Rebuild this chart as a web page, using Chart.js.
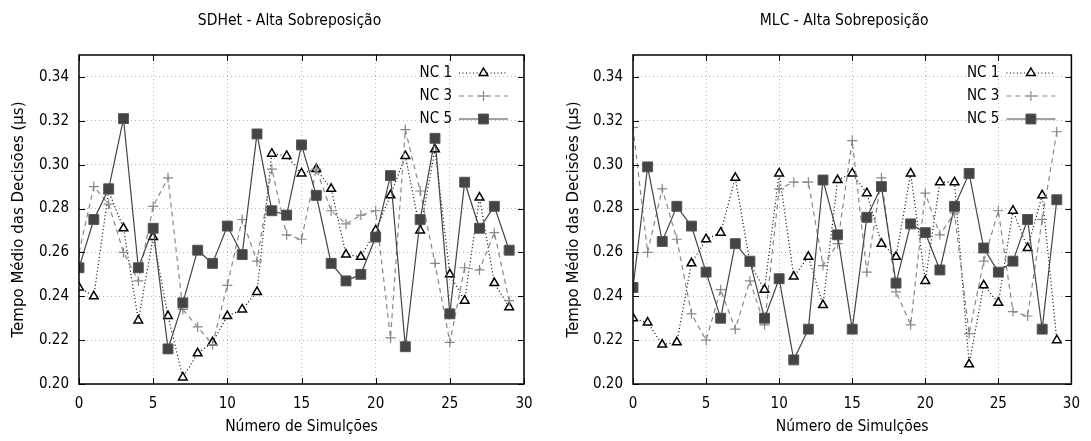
<!DOCTYPE html>
<html>
<head>
<meta charset="utf-8">
<script src="https://cdn.jsdelivr.net/npm/chart.js@4.4.0/dist/chart.umd.min.js"></script>
<style>
  body { margin: 0; background: #fff; }
  #wrap { position: relative; width: 1091px; height: 441px; }
  canvas { position: absolute; top: 0; }
</style>
</head>
<body>
<div id="wrap">
  <canvas id="sdhet" width="545" height="441" style="left:0;width:545px;height:441px"></canvas>
  <canvas id="mlc" width="546" height="441" style="left:545px;width:546px;height:441px"></canvas>
</div>
<script>
// eixos
const simulacoes = [0, 1, 2, 3, 4, 5, 6, 7, 8, 9, 10, 11, 12, 13, 14, 15, 16, 17, 18, 19, 20, 21, 22, 23, 24, 25, 26, 27, 28, 29];
const xTicks = [0, 5, 10, 15, 20, 25, 30];
const yTicks = [0.20, 0.22, 0.24, 0.26, 0.28, 0.30, 0.32, 0.34];
const seriesNames = ['NC 1', 'NC 3', 'NC 5'];

// SDHet - Alta Sobreposição
const sdhetNC1 = [0.244, 0.240, 0.288, 0.271, 0.229, 0.267, 0.231, 0.203, 0.214, 0.219, 0.231, 0.234, 0.242, 0.305, 0.304, 0.296, 0.298, 0.289, 0.259, 0.258, 0.270, 0.286, 0.304, 0.270, 0.307, 0.250, 0.238, 0.285, 0.246, 0.235];
const sdhetNC3 = [0.260, 0.290, 0.282, 0.260, 0.247, 0.281, 0.294, 0.234, 0.226, 0.218, 0.245, 0.275, 0.256, 0.298, 0.268, 0.266, 0.298, 0.279, 0.273, 0.277, 0.279, 0.221, 0.316, 0.288, 0.255, 0.219, 0.253, 0.252, 0.269, 0.238];
const sdhetNC5 = [0.253, 0.275, 0.289, 0.321, 0.253, 0.271, 0.216, 0.237, 0.261, 0.255, 0.272, 0.259, 0.314, 0.279, 0.277, 0.309, 0.286, 0.255, 0.247, 0.250, 0.267, 0.295, 0.217, 0.275, 0.312, 0.232, 0.292, 0.271, 0.281, 0.261];

// MLC - Alta Sobreposição
const mlcNC1 = [0.230, 0.228, 0.218, 0.219, 0.255, 0.266, 0.269, 0.294, 0.255, 0.243, 0.296, 0.249, 0.258, 0.236, 0.293, 0.296, 0.287, 0.264, 0.258, 0.296, 0.247, 0.292, 0.292, 0.209, 0.245, 0.237, 0.279, 0.262, 0.286, 0.220];
const mlcNC3 = [0.317, 0.260, 0.289, 0.266, 0.232, 0.220, 0.243, 0.225, 0.247, 0.227, 0.289, 0.292, 0.292, 0.254, 0.264, 0.311, 0.251, 0.294, 0.242, 0.227, 0.287, 0.268, 0.278, 0.223, 0.256, 0.279, 0.233, 0.231, 0.275, 0.315];
const mlcNC5 = [0.244, 0.299, 0.265, 0.281, 0.272, 0.251, 0.230, 0.264, 0.256, 0.230, 0.248, 0.211, 0.225, 0.293, 0.268, 0.225, 0.276, 0.290, 0.246, 0.273, 0.269, 0.252, 0.281, 0.296, 0.262, 0.251, 0.256, 0.275, 0.225, 0.284];

const FONT = "'DejaVu Sans Condensed', 'DejaVu Sans', sans-serif";
Chart.defaults.font.family = FONT;
Chart.defaults.font.size = 15;
Chart.defaults.color = '#000';

function pts(ys) {
    return simulacoes.map((x, i) => ({ x: x, y: ys[i] }));
}

// marcador da legenda, igual ao desenhado pelo Chart.js
function drawMarker(ctx, ds, x, y) {
    const r = ds.pointRadius;
    ctx.save();
    ctx.setLineDash([]);
    ctx.lineWidth = ds.pointBorderWidth;
    ctx.strokeStyle = ds.pointBorderColor;
    ctx.fillStyle = ds.pointBackgroundColor;
    ctx.beginPath();
    if (ds.pointStyle === 'triangle') {
        ctx.moveTo(x, y - r);
        ctx.lineTo(x + 0.866 * r, y + 0.5 * r);
        ctx.lineTo(x - 0.866 * r, y + 0.5 * r);
        ctx.closePath();
        ctx.fill();
        ctx.stroke();
    } else if (ds.pointStyle === 'cross') {
        ctx.moveTo(x, y - r); ctx.lineTo(x, y + r);
        ctx.moveTo(x - r, y); ctx.lineTo(x + r, y);
        ctx.stroke();
    } else {
        const s = r * Math.SQRT1_2;
        ctx.rect(x - s, y - s, 2 * s, 2 * s);
        ctx.fill();
        ctx.stroke();
    }
    ctx.restore();
}

// moldura, ticks internos, título e legenda (estilo gnuplot)
const gnuplotLook = {
    id: 'gnuplotLook',
    afterDraw(chart, args, opts) {
        const ctx = chart.ctx;
        const a = chart.chartArea;
        const sx = chart.scales.x, sy = chart.scales.y;
        ctx.save();
        ctx.strokeStyle = '#000';
        ctx.lineWidth = 1;
        ctx.setLineDash([]);
        ctx.beginPath();
        xTicks.forEach(v => {
            const px = Math.round(sx.getPixelForValue(v)) + 0.5;
            ctx.moveTo(px, a.bottom); ctx.lineTo(px, a.bottom - 6);
            ctx.moveTo(px, a.top); ctx.lineTo(px, a.top + 6);
        });
        yTicks.forEach(v => {
            const py = Math.round(sy.getPixelForValue(v)) + 0.5;
            ctx.moveTo(a.left, py); ctx.lineTo(a.left + 6, py);
            ctx.moveTo(a.right, py); ctx.lineTo(a.right - 6, py);
        });
        ctx.stroke();
        ctx.lineWidth = 1.5;
        ctx.strokeRect(a.left, a.top, a.right - a.left, a.bottom - a.top);

        ctx.fillStyle = '#000';
        ctx.font = "15.5px " + FONT;
        ctx.textAlign = 'center';
        ctx.textBaseline = 'middle';
        ctx.fillText(opts.title, (a.left + a.right) / 2 + opts.titleShift, 21);

        ctx.font = "15px " + FONT;
        const legendY = [73, 96, 119];
        chart.data.datasets.forEach((ds, i) => {
            const y = legendY[i];
            ctx.textAlign = 'right';
            ctx.fillStyle = '#000';
            ctx.fillText(ds.label, a.right - 72, y);
            const x0 = a.right - 65, x1 = a.right - 16;
            ctx.save();
            ctx.strokeStyle = ds.borderColor;
            ctx.lineWidth = ds.borderWidth;
            ctx.setLineDash(ds.borderDash || []);
            ctx.beginPath();
            ctx.moveTo(x0, y); ctx.lineTo(x1, y);
            ctx.stroke();
            ctx.restore();
            drawMarker(ctx, ds, (x0 + x1) / 2, y);
        });
        ctx.restore();
    }
};

function makeChart(id, title, nc1, nc3, nc5, yWidth, padRight, yTitlePad, titleShift) {
    const ctx = document.getElementById(id).getContext('2d');
    return new Chart(ctx, {
        type: 'line',
        data: {
            datasets: [
                { label: seriesNames[0], data: pts(nc1), order: 3,
                  borderColor: '#000', borderWidth: 1.2, borderDash: [1, 2.5],
                  pointStyle: 'triangle', pointRadius: 5, pointBorderWidth: 1.5,
                  pointBorderColor: '#000', pointBackgroundColor: '#fff' },
                { label: seriesNames[1], data: pts(nc3), order: 2,
                  borderColor: '#888', borderWidth: 1.2, borderDash: [5, 4],
                  pointStyle: 'cross', pointRadius: 5, pointBorderWidth: 1.2,
                  pointBorderColor: '#888', pointBackgroundColor: '#888' },
                { label: seriesNames[2], data: pts(nc5), order: 1,
                  borderColor: '#444', borderWidth: 1.2,
                  pointStyle: 'rect', pointRadius: 7, pointBorderWidth: 1,
                  pointBorderColor: '#555', pointBackgroundColor: '#444' }
            ]
        },
        options: {
            responsive: false,
            animation: false,
            layout: { padding: { top: 55, right: padRight, left: 0, bottom: 0 } },
            elements: { line: { tension: 0 } },
            plugins: {
                legend: { display: false },
                tooltip: { enabled: false },
                gnuplotLook: { title: title, titleShift: titleShift }
            },
            scales: {
                x: {
                    type: 'linear', min: 0, max: 30,
                    afterFit: s => { s.height = 57; },
                    afterBuildTicks: s => { s.ticks = xTicks.map(v => ({ value: v })); },
                    ticks: { padding: 11, maxRotation: 0, color: '#000' },
                    grid: { color: '#b8b8b8', drawTicks: false, lineWidth: 1 },
                    border: { display: false, dash: [1, 3] },
                    title: { display: true, text: 'Número de Simulções', font: { size: 15.5 },
                             padding: { top: 5, bottom: 5 } }
                },
                y: {
                    min: 0.20, max: 0.35,
                    afterFit: s => { s.width = yWidth; },
                    afterBuildTicks: s => { s.ticks = yTicks.map(v => ({ value: v })); },
                    ticks: { padding: 10, color: '#000', callback: v => v.toFixed(2) },
                    grid: { color: '#b8b8b8', drawTicks: false, lineWidth: 1 },
                    border: { display: false, dash: [1, 3] },
                    title: { display: true, text: 'Tempo Médio das Decisões (µs)',
                             font: { family: "'DejaVu Sans', sans-serif", size: 15 },
                             padding: { top: yTitlePad, bottom: yTitlePad } }
                }
            }
        },
        plugins: [gnuplotLook]
    });
}

makeChart('sdhet', 'SDHet - Alta Sobreposição', sdhetNC1, sdhetNC3, sdhetNC5, 79, 21, 10, -12);
makeChart('mlc', 'MLC - Alta Sobreposição', mlcNC1, mlcNC3, mlcNC5, 88, 11, 20, -8);
</script>
</body>
</html>
